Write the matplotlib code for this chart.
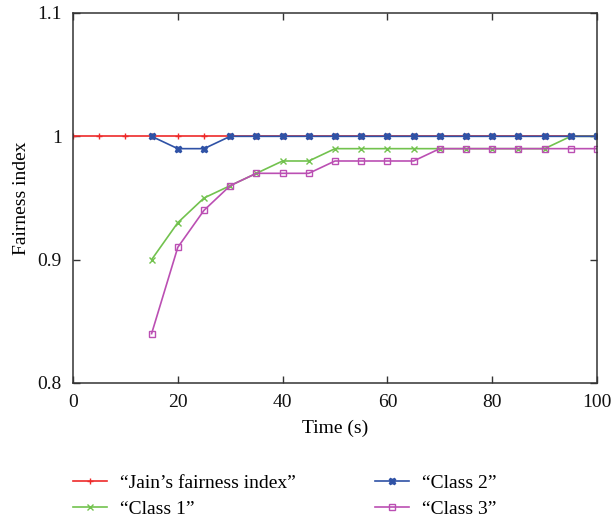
import matplotlib
matplotlib.use('Agg')
import matplotlib.pyplot as plt
from matplotlib.ticker import FormatStrFormatter

plt.rcParams['font.family'] = ['Liberation Serif', 'DejaVu Serif']

t_jain = [0, 5, 10, 15, 20, 25, 30, 35, 40, 45, 50, 55, 60, 65, 70, 75, 80, 85, 90, 95, 100]
jain = [1.0] * 21

t_cls = [15, 20, 25, 30, 35, 40, 45, 50, 55, 60, 65, 70, 75, 80, 85, 90, 95, 100]
class1 = [0.90, 0.93, 0.95, 0.96, 0.97, 0.98, 0.98, 0.99, 0.99, 0.99, 0.99, 0.99, 0.99, 0.99, 0.99, 0.99, 1.0, 1.0]
class2 = [1.0, 0.99, 0.99, 1.0, 1.0, 1.0, 1.0, 1.0, 1.0, 1.0, 1.0, 1.0, 1.0, 1.0, 1.0, 1.0, 1.0, 1.0]
class3 = [0.84, 0.91, 0.94, 0.96, 0.97, 0.97, 0.97, 0.98, 0.98, 0.98, 0.98, 0.99, 0.99, 0.99, 0.99, 0.99, 0.99, 0.99]

fig = plt.figure(figsize=(6.14, 5.2), dpi=100)
ax = fig.add_axes([0.1189, 0.2635, 0.8534, 0.7115])

l1, = ax.plot(t_jain, jain, color='#ee2a2a', marker='+', ms=5, lw=1.2, label='\u201cJain\u2019s fairness index\u201d')
l2, = ax.plot(t_cls, class1, color='#72c24e', marker='x', ms=4.5, lw=1.2, label='\u201cClass 1\u201d')
l4, = ax.plot(t_cls, class3, color='#bb4fb3', marker='s', ms=4.5, mfc='none', lw=1.2, label='\u201cClass 3\u201d')
l3, = ax.plot(t_cls, class2, color='#2f52a6', marker='X', ms=5, lw=1.2, label='\u201cClass 2\u201d')

ax.set_xlim(0, 100)
ax.set_ylim(0.8, 1.1)
ax.set_xticks([0, 20, 40, 60, 80, 100])
ax.set_yticks([0.8, 0.9, 1.0, 1.1])
ax.yaxis.set_major_formatter(FormatStrFormatter('%g'))
ax.tick_params(direction='in', labelsize=14, length=5, width=1, pad=8,
               top=True, right=True, colors='#333333', labelcolor='#111111')
for s in ax.spines.values():
    s.set_linewidth(1.1)
    s.set_color('#333333')
ax.set_xlabel('Time (s)', fontsize=14, labelpad=6)
ax.set_ylabel('Fairness index', fontsize=14, labelpad=5)

fig.legend([l1, l2, l3, l4], [l.get_label() for l in [l1, l2, l3, l4]],
           ncol=2, frameon=False, fontsize=14, loc='upper left',
           bbox_to_anchor=(0.090, 0.122), columnspacing=4.1, handlelength=1.75,
           labelspacing=0.45, handletextpad=0.67)

fig.savefig('out.png', dpi=100)
